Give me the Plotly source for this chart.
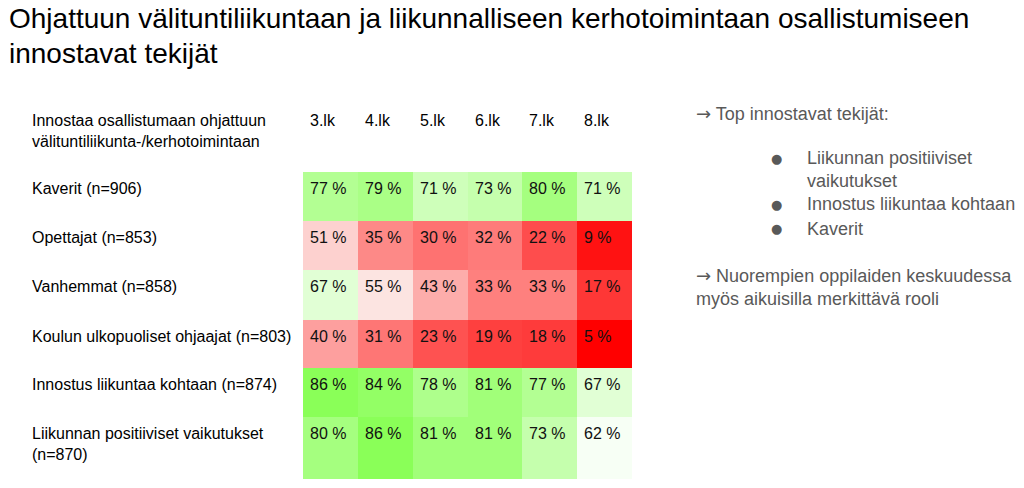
import plotly.graph_objects as go

title_lines = ["Ohjattuun välituntiliikuntaan ja liikunnalliseen kerhotoimintaan osallistumiseen",
               "innostavat tekijät"]
header_label = "Innostaa osallistumaan ohjattuun<br>välituntiliikunta-/kerhotoimintaan"
grades = ["3.lk", "4.lk", "5.lk", "6.lk", "7.lk", "8.lk"]
rows = ["Kaverit (n=906)", "Opettajat (n=853)", "Vanhemmat (n=858)",
        "Koulun ulkopuoliset ohjaajat (n=803)", "Innostus liikuntaa kohtaan (n=874)",
        "Liikunnan positiiviset vaikutukset<br>(n=870)"]
values = [
    [77, 79, 71, 73, 80, 71],
    [51, 35, 30, 32, 22, 9],
    [67, 55, 43, 33, 33, 17],
    [40, 31, 23, 19, 18, 5],
    [86, 84, 78, 81, 77, 67],
    [80, 86, 81, 81, 73, 62],
]
ARROW = '<span style="font-family:DejaVu Sans">→</span>'
side_head = ARROW + " Top innostavat tekijät:"
side_bullets = ["Liikunnan positiiviset<br>vaikutukset", "Innostus liikuntaa kohtaan", "Kaverit"]
side_note = ARROW + " Nuorempien oppilaiden keskuudessa<br>myös aikuisilla merkittävä rooli"

W, H = 1024, 488


def px(x):
    return x / W


def py(y):
    return 1 - y / H


row_edges = [172, 221, 270, 320, 368, 417, 479]
x_left, x_right = 303, 632

zmin = min(min(r) for r in values)
zmax = max(max(r) for r in values)
zmid = 61
mpos = (zmid - zmin) / (zmax - zmin)
colorscale = [[0, "rgb(255,0,0)"], [mpos, "rgb(252,255,252)"], [1, "rgb(138,255,88)"]]

y_edges = [e - row_edges[0] for e in row_edges]
x_edges = [i - 0.5 for i in range(len(grades) + 1)]

fig = go.Figure(go.Heatmap(
    z=values, x=x_edges, y=y_edges, colorscale=colorscale, zmin=zmin, zmax=zmax,
    showscale=False, hoverinfo="skip"))

font = "Liberation Sans, Arial, sans-serif"
ann = []
for i, r in enumerate(rows):
    ann.append(dict(xref="paper", yref="y", x=px(30), y=y_edges[i], text=r,
                    xanchor="left", yanchor="top", yshift=-6, align="left",
                    showarrow=False, font=dict(size=16, color="#000", family=font)))
    for j, v in enumerate(values[i]):
        ann.append(dict(xref="x", yref="y", x=x_edges[j], y=y_edges[i], text=f"{v} %",
                        xanchor="left", yanchor="top", xshift=5, yshift=-6,
                        showarrow=False, font=dict(size=16, color="#111", family=font)))
for j, g in enumerate(grades):
    ann.append(dict(xref="x", yref="paper", x=x_edges[j], y=py(120), text=g,
                    xanchor="left", yanchor="middle", xshift=5, showarrow=False,
                    font=dict(size=16, color="#000", family=font)))
ann.append(dict(xref="paper", yref="paper", x=px(30), y=py(131), text=header_label,
                xanchor="left", yanchor="middle", align="left", showarrow=False,
                font=dict(size=16, color="#000", family=font)))
for line, anchor in zip(title_lines, ["bottom", "top"]):
    ann.append(dict(xref="paper", yref="paper", x=px(7), y=py(36), text=line,
                    xanchor="left", yanchor=anchor, align="left", showarrow=False,
                    font=dict(size=28, color="#000", family=font)))
side_color = "#595959"
ann.append(dict(xref="paper", yref="paper", x=px(694), y=py(113), text=side_head,
                xanchor="left", yanchor="middle", showarrow=False,
                font=dict(size=18, color=side_color, family=font)))
bullet_y = [158, 204, 229]
for b, by in zip(side_bullets, bullet_y):
    ann.append(dict(xref="paper", yref="paper", x=px(769), y=py(by), text="●",
                    xanchor="left", yanchor="middle", showarrow=False,
                    font=dict(size=13, color=side_color, family="DejaVu Sans")))
    ann.append(dict(xref="paper", yref="paper", x=px(805), y=py(by - 12), text=b,
                    xanchor="left", yanchor="top", align="left", showarrow=False,
                    font=dict(size=18, color=side_color, family=font)))
ann.append(dict(xref="paper", yref="paper", x=px(694), y=py(287), text=side_note,
                xanchor="left", yanchor="middle", align="left", showarrow=False,
                font=dict(size=18, color=side_color, family=font)))

fig.update_layout(
    width=W, height=H, margin=dict(l=0, r=0, t=0, b=0),
    paper_bgcolor="white", plot_bgcolor="white",
    xaxis=dict(domain=[px(x_left), px(x_right)], range=[x_edges[0], x_edges[-1]],
               visible=False, fixedrange=True),
    yaxis=dict(domain=[py(row_edges[-1]), py(row_edges[0])],
               range=[y_edges[-1], y_edges[0]], visible=False, fixedrange=True),
    annotations=ann, showlegend=False,
)
fig.write_html("out.html", config={"displayModeBar": False},
               post_script="document.body.style.margin='0';document.body.style.overflow='hidden';")
